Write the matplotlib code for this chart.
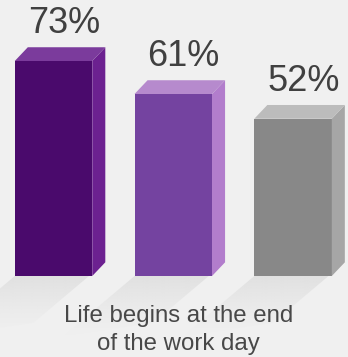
import numpy as np
import matplotlib.pyplot as plt
from matplotlib.patches import Polygon
from matplotlib.colors import to_rgb

# Chart data
values = [73, 61, 52]
value_labels = ["73%", "61%", "52%"]
caption_lines = ["Life begins at the end", "of the work day"]

# Face colours of the pseudo-3D bars
front_colors = ["#4a0a6c", "#7443a0", "#888888"]
side_colors = ["#6c2190", "#b27dcc", "#a6a6a6"]
top_colors = ["#7b3b9c", "#b68acd", "#bcbcbc"]

BG = "#f0f0f0"
TEXT = "#404040"

BASE = -5.2       # bottom of the front faces
W = 0.647         # front face width
DX, DY = 0.109, 5.0   # depth offset of the extruded faces
SX, SY = -0.6, -22.0  # direction of the floor shadow

fig = plt.figure(figsize=(3.48, 3.57), dpi=100, facecolor=BG)
ax = fig.add_axes([0, 0, 1, 1])
ax.set_facecolor(BG)
ax.set_xlim(-0.4468, 2.459)
ax.set_ylim(-34.64, 95.18)
ax.axis("off")

x = np.arange(len(values))

# Soft floor shadows
shadow_rgb = np.array(to_rgb("#d6d6d6"))
for xi in x:
    p0 = np.array([xi - W / 2, BASE])
    p1 = np.array([xi + W / 2 + DX, BASE + DY])
    poly = np.array([p0, p1, p1 + [SX, SY], p0 + [SX, SY]])
    x0, x1 = poly[:, 0].min(), poly[:, 0].max()
    y0, y1 = poly[:, 1].min(), poly[:, 1].max()
    gx, gy = np.meshgrid(np.linspace(x0, x1, 200), np.linspace(y0, y1, 200))
    # fraction of the way along the shadow direction (0 at the bar, 1 at the tip)
    t = np.clip((BASE - gy) / (-SY), 0, 1)
    img = np.zeros(gx.shape + (4,))
    img[..., :3] = shadow_rgb
    img[..., 3] = 0.6 * (1 - t) ** 1.4
    im = ax.imshow(img, extent=(x0, x1, y0, y1), origin="lower",
                   aspect="auto", interpolation="bilinear", zorder=1)
    clip = Polygon(poly, closed=True, transform=ax.transData,
                   facecolor="none", edgecolor="none")
    ax.add_patch(clip)
    im.set_clip_path(clip)

# Bars: front face through ax.bar, side and top faces as polygons
ax.bar(x, [v - BASE for v in values], bottom=BASE, width=W,
       color=front_colors, linewidth=0, zorder=3)
for xi, v, sc, tc in zip(x, values, side_colors, top_colors):
    r = xi + W / 2
    l = xi - W / 2
    side = [(r, BASE), (r + DX, BASE + DY), (r + DX, v + DY), (r, v)]
    top = [(l, v), (l + DX, v + DY), (r + DX, v + DY), (r, v)]
    ax.add_patch(Polygon(side, closed=True, facecolor=sc, edgecolor="none", zorder=3))
    ax.add_patch(Polygon(top, closed=True, facecolor=tc, edgecolor="none", zorder=3))

# Value labels above the bars
for xi, v, lab in zip(x, values, value_labels):
    ax.annotate(lab, xy=(xi, v), xytext=(7.5, 20), textcoords="offset points",
                ha="center", va="baseline", fontsize=26, color=TEXT,
                family="Liberation Sans", zorder=4)

# Caption under the bars
for i, line in enumerate(caption_lines):
    fig.text(178.5 / 348, 1 - (322 + 28 * i) / 357, line, ha="center",
             va="baseline", fontsize=17.3, color="#484848",
             family="Liberation Sans")

fig.savefig("out.png", dpi=100, facecolor=BG)
